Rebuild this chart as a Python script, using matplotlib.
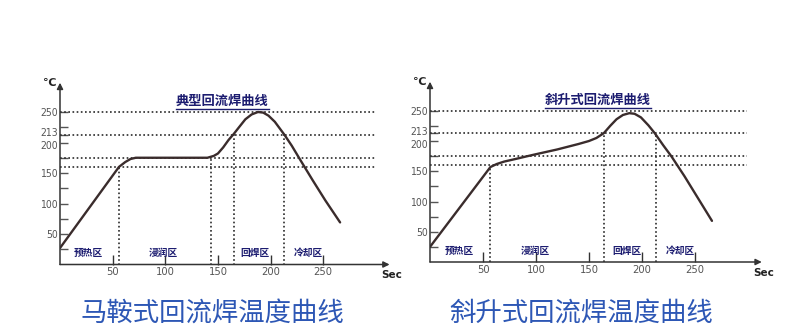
import matplotlib
matplotlib.use("Agg")
import matplotlib.pyplot as plt
from matplotlib.lines import Line2D
import matplotlib.transforms as mtransforms
import numpy as np

plt.rcParams['font.family'] = ['Noto Sans CJK SC', 'DejaVu Sans']

# Saddle-type reflow profile (time in s, temperature in °C)
saddle_t = [0, 56, 62, 67, 72, 100, 140, 146, 150, 155, 160, 165, 170, 176,
            182, 188, 193, 198, 204, 210, 213, 220, 228, 240, 252, 266]
saddle_T = [27, 160, 168, 173, 175, 175, 175, 178, 182, 192, 204, 214, 225, 238,
            246, 250, 249, 244, 234, 220, 213, 195, 172, 138, 105, 69]

# Ramp-type reflow profile
ramp_t = [0, 57, 63, 70, 80, 97, 120, 140, 150, 157, 164, 170, 176, 182,
          188, 193, 199, 206, 212, 220, 228, 240, 253, 266]
ramp_T = [25, 157, 162, 166, 170, 177, 186, 195, 200, 205, 213, 225, 236, 243,
          246, 245, 239, 226, 213, 193, 174, 142, 105, 68]

level_lines = [250, 213, 175, 160]
saddle_edges = [56, 143, 165, 213]
ramp_edges = [57, 164, 213]

x_ticks = [50, 100, 150, 200, 250]
y_ticks = [50, 100, 150, 200, 213, 250]
y_minor = [25, 75, 125, 175, 225]

zone_names = ['预热区', '浸润区', '回焊区', '冷却区']
saddle_zone_x = [27, 98, 185, 236]
ramp_zone_x = [28, 99, 186, 236]

saddle_title = '典型回流焊曲线'
ramp_title = '斜升式回流焊曲线'
captions = ['马鞍式回流焊温度曲线', '斜升式回流焊温度曲线']

W, H = 800, 333
fig = plt.figure(figsize=(W / 100, H / 100), dpi=100)
fig.patch.set_facecolor('white')

NAVY = '#1c1c70'
CURVE = '#3a2c2c'
DOT = '#2a2a2a'
GRAY = '#555555'


def make_axes(x0, y0, sx, sy):
    return fig.add_axes([x0 / W, (H - y0) / H, 320 * sx / W, 300 * sy / H])


def draw_panel(ax, t, T, edges, zone_x, title, title_x, hline_end):
    ax.set_xlim(0, 320)
    ax.set_ylim(0, 300)
    for s in ax.spines.values():
        s.set_visible(False)

    # axes with arrow heads
    ax.annotate('', xy=(313, 0), xytext=(0, 0), annotation_clip=False,
                arrowprops=dict(arrowstyle='-|>', color='#333333', lw=1.1,
                                mutation_scale=9, shrinkA=0, shrinkB=0))
    ax.annotate('', xy=(0, 298), xytext=(0, 0), annotation_clip=False,
                arrowprops=dict(arrowstyle='-|>', color='#333333', lw=1.1,
                                mutation_scale=9, shrinkA=0, shrinkB=0))

    # reference temperature levels
    for lv in level_lines:
        ax.plot([0, hline_end], [lv, lv], color=DOT, lw=1.2,
                linestyle=(0, (1, 1.5)))
    # zone boundaries up to the curve
    for e in edges:
        top = np.interp(e, t, T)
        ax.plot([e, e], [0, top], color=DOT, lw=1.2, linestyle=(0, (1, 1.5)))

    ax.plot(t, T, color=CURVE, lw=1.7, solid_capstyle='round',
            solid_joinstyle='round')

    ax.set_xticks(x_ticks)
    ax.set_xticklabels([str(v) for v in x_ticks])
    ax.set_yticks(y_ticks)
    ax.set_yticklabels([str(v) for v in y_ticks])
    ax.set_yticks(y_minor, minor=True)
    ax.tick_params(axis='x', direction='in', length=7, width=1, color='#333333',
                   labelsize=8, labelcolor=GRAY, pad=2)
    ax.tick_params(axis='y', which='both', direction='in', length=6, width=1,
                   color='#555555', labelsize=7.5, labelcolor=GRAY, pad=1.5)
    for lab in ax.get_xticklabels() + ax.get_yticklabels():
        lab.set_family(['DejaVu Sans'])
        lab.set_fontstretch('condensed')
    # the 213 and 200 labels sit close together: spread them slightly
    for lab, v in zip(ax.get_yticklabels(), y_ticks):
        if v == 213:
            lab.set_transform(lab.get_transform() + mtransforms.ScaledTranslation(0, 2.5 / 100, fig.dpi_scale_trans))
        elif v == 200:
            lab.set_transform(lab.get_transform() + mtransforms.ScaledTranslation(0, -2.5 / 100, fig.dpi_scale_trans))

    ax.text(-3, 298, '℃', ha='right', va='center', fontsize=8,
            fontweight='bold', color='#222222', family=['DejaVu Sans'])
    ax.text(305, -18, 'Sec', ha='left', va='center', fontsize=7.5,
            fontweight='bold', color='#222222', family=['DejaVu Sans'])

    for name, zx in zip(zone_names, zone_x):
        ax.text(zx, 19, name, ha='center', va='center', fontsize=7,
                fontweight='bold', color=NAVY)

    ttl = ax.text(title_x, 268, title, ha='center', va='center',
                  fontsize=9.5, fontweight='bold', color=NAVY)
    return ttl


ax1 = make_axes(60, 264.5, 1.053, 0.61)
ax2 = make_axes(430, 262, 1.06, 0.605)

t1 = draw_panel(ax1, saddle_t, saddle_T, saddle_edges, saddle_zone_x,
                saddle_title, 154, 300)
t2 = draw_panel(ax2, ramp_t, ramp_T, ramp_edges, ramp_zone_x,
                ramp_title, 158.5, 299)

# underline the panel titles
fig.canvas.draw()
for ttl in (t1, t2):
    bb = ttl.get_window_extent()
    y = bb.y0 - 1
    fig.add_artist(Line2D([bb.x0 / W, bb.x1 / W], [y / H, y / H],
                          color=NAVY, lw=1.0))

for cx, cap in zip([212, 581], captions):
    fig.text(cx / W, 1 - 313 / H, cap, ha='center', va='center',
             fontsize=19, color='#2d57b5', fontweight='medium')

fig.savefig('out.png', dpi=100, facecolor='white')
